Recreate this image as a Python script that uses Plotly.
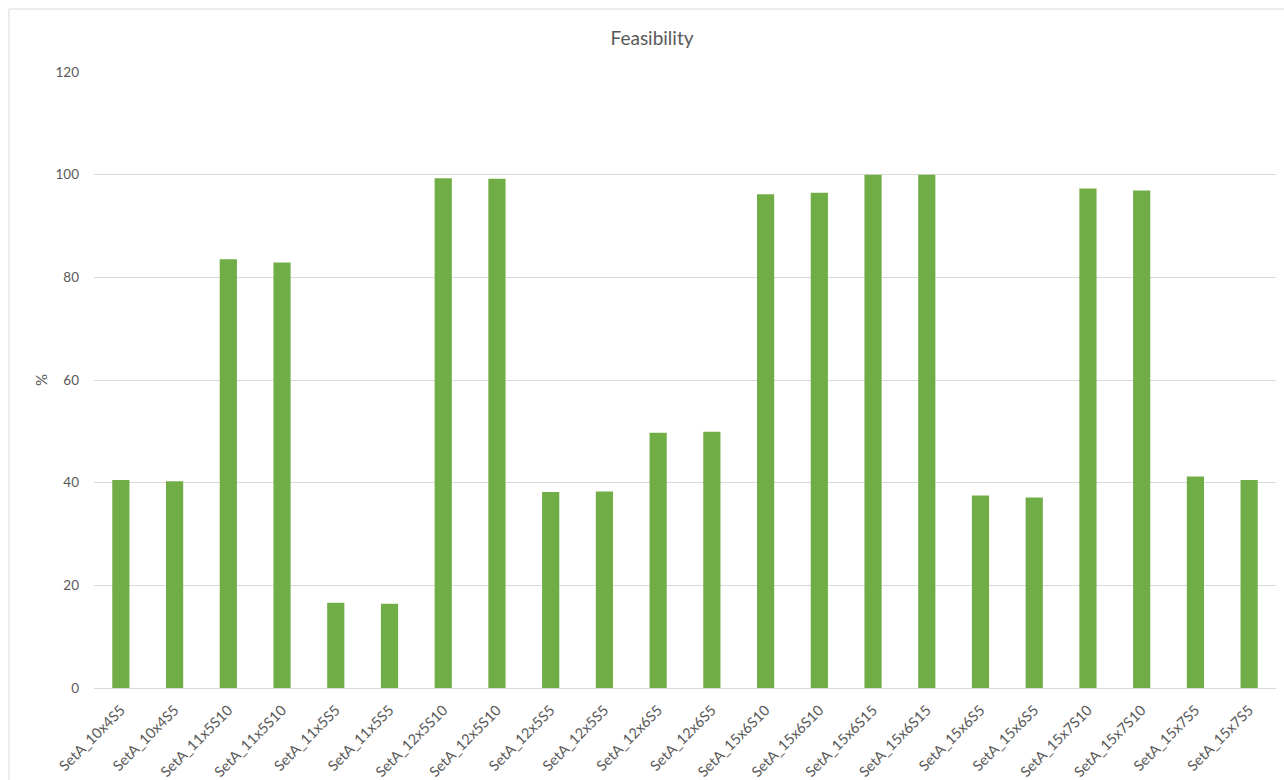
import plotly.graph_objects as go

categories = [
    "SetA_10x4S5", "SetA_10x4S5", "SetA_11x5S10", "SetA_11x5S10",
    "SetA_11x5S5", "SetA_11x5S5", "SetA_12x5S10", "SetA_12x5S10",
    "SetA_12x5S5", "SetA_12x5S5", "SetA_12x6S5", "SetA_12x6S5",
    "SetA_15x6S10", "SetA_15x6S10", "SetA_15x6S15", "SetA_15x6S15",
    "SetA_15x6S5", "SetA_15x6S5", "SetA_15x7S10", "SetA_15x7S10",
    "SetA_15x7S5", "SetA_15x7S5",
]
feasibility = [
    40.5, 40.3, 83.5, 82.9, 16.6, 16.4, 99.3, 99.2, 38.2, 38.3, 49.7,
    49.9, 96.2, 96.5, 100.0, 100.0, 37.5, 37.1, 97.3, 96.9, 41.2, 40.5,
]
y_ticks = [0, 20, 40, 60, 80, 100, 120]

positions = list(range(len(categories)))

FONT = "Lato, 'Open Sans', sans-serif"
GRAY = "#595959"
GRID = "#d9d9d9"

fig = go.Figure()
fig.add_trace(go.Bar(
    x=positions,
    y=feasibility,
    marker=dict(color="#70AD47", line=dict(width=0)),
    width=0.32,
    hoverinfo="y",
))

fig.update_layout(
    width=1284,
    height=780,
    margin=dict(l=94, r=8, t=72, b=92),
    paper_bgcolor="white",
    plot_bgcolor="white",
    showlegend=False,
    font=dict(family=FONT, color=GRAY, size=13),
    title=dict(
        text="Feasibility",
        x=652 / 1284,
        xref="container",
        xanchor="center",
        y=1 - 38 / 780,
        yref="container",
        yanchor="middle",
        font=dict(family=FONT, size=19, color=GRAY),
    ),
    xaxis=dict(
        tickmode="array",
        tickvals=positions,
        ticktext=categories,
        tickangle=-45,
        range=[-0.5, len(categories) - 0.5],
        showgrid=False,
        showline=True,
        linecolor=GRID,
        linewidth=1,
        ticks="",
        ticklabelstandoff=7,
        automargin=False,
        tickfont=dict(family=FONT, size=14.5, color=GRAY),
        zeroline=False,
    ),
    yaxis=dict(
        range=[0, 120],
        tickmode="array",
        tickvals=y_ticks,
        showgrid=True,
        gridcolor=GRID,
        gridwidth=1,
        zeroline=False,
        showline=False,
        ticks="",
        ticklabelstandoff=14,
        automargin=False,
        tickfont=dict(family=FONT, size=13.5, color=GRAY),
        title=dict(text="%", font=dict(family=FONT, size=15, color=GRAY), standoff=4),
    ),
    shapes=[
        dict(
            type="rect",
            xref="paper", yref="paper",
            x0=(9 - 94) / 1182, x1=(1290 - 94) / 1182,
            y0=(688 - 800) / 616, y1=(688 - 9) / 616,
            line=dict(color=GRID, width=1),
            fillcolor="rgba(0,0,0,0)",
            layer="below",
        )
    ],
)

fig.write_html("out.html")
